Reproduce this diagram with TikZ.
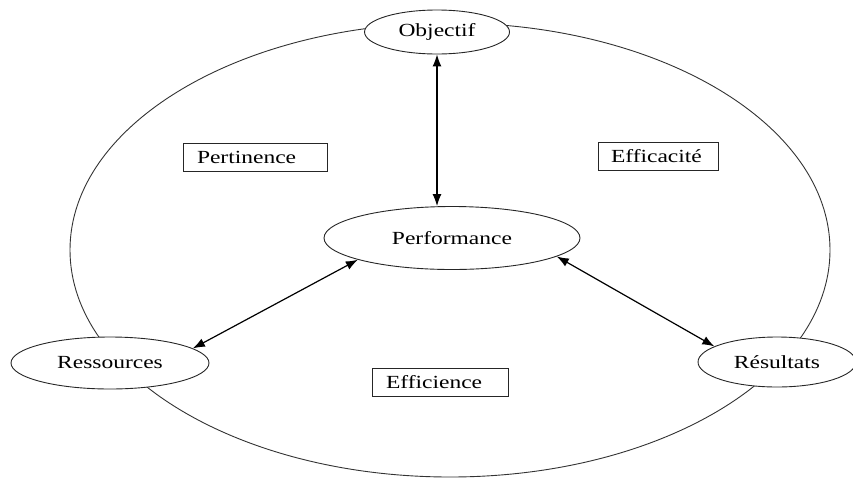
\documentclass[tikz,border=0pt]{standalone}
\usepackage{fontspec}
\setmainfont[FakeStretch=1.27]{Liberation Serif}
\usetikzlibrary{shapes.geometric,arrows.meta}
\begin{document}
\begin{tikzpicture}[x=1pt,y=-1pt,
  every node/.style={font=\fontsize{18.5}{20}\selectfont},
  oval/.style={draw=black!85, line width=0.9pt, ellipse, fill=white, inner sep=0pt},
  box/.style={draw=black!85, line width=0.9pt, rectangle, fill=white, minimum height=28pt, inner ysep=0pt, inner xsep=14pt, align=left},
  link/.style={line width=1.2pt, {Latex[length=12pt,width=9pt]}-{Latex[length=12pt,width=9pt]}}]
\path[use as bounding box] (0,0) rectangle (853,480);
\draw[black!80, line width=0.9pt] (450,250) ellipse [x radius=380pt, y radius=227pt];
\node[oval, minimum width=145pt, minimum height=44pt] (obj) at (437,32) {Objectif};
\node[oval, minimum width=256pt, minimum height=63pt] (perf) at (452,238) {Performance};
\node[oval, minimum width=198pt, minimum height=52pt] (ress) at (110,363) {Ressources};
\node[oval, minimum width=158pt, minimum height=50pt] (res) at (777,362) {Résultats};
\node[box, minimum width=144pt, text width=116pt] (pert) at (255,157) {Pertinence};
\node[box, minimum width=120pt, inner xsep=13pt, text width=94pt] (effa) at (658,156) {Efficacité};
\node[box, minimum width=136pt, text width=108pt] (effi) at (440,382) {Efficience};
\draw[link] (obj.south) -- (obj.south |- perf.north);
\draw[link] (ress.10) -- (perf.193);
\draw[link] (perf.-10) -- (res.166);
\end{tikzpicture}
\end{document}
